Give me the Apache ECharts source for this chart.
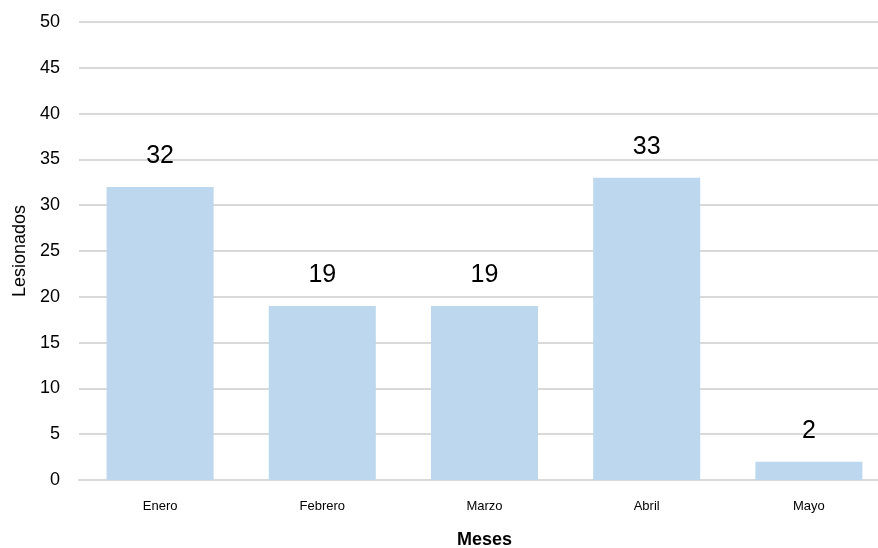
<!DOCTYPE html>
<html><head><meta charset="utf-8">
<script src="https://cdn.jsdelivr.net/npm/echarts@6/dist/echarts.min.js"></script>
<style>html,body{margin:0;padding:0;background:#fff;overflow:hidden}#c{width:878px;height:548px}</style>
</head><body><div id="c"></div>
<script>
const categories = ['Enero', 'Febrero', 'Marzo', 'Abril', 'Mayo'];
const lesionados = [32, 19, 19, 33, 2];
const yTicks = [0, 5, 10, 15, 20, 25, 30, 35, 40, 45, 50];
const xTitle = 'Meses';
const yTitle = 'Lesionados';
const font = "'Liberation Sans', Arial, sans-serif";
const chart = echarts.init(document.getElementById('c'), null, {renderer: 'canvas'});
chart.setOption({
  animation: false,
  grid: {left: 79, top: 22, width: 811, height: 458, containLabel: false, outerBoundsMode: 'none'},
  xAxis: {
    type: 'category', data: categories,
    axisLine: {show: true, lineStyle: {color: '#D9D9D9', width: 2}},
    axisTick: {show: false},
    axisLabel: {color: '#000', fontFamily: font, fontSize: 13, margin: 20},
    name: xTitle, nameLocation: 'middle', nameGap: 51,
    nameTextStyle: {color: '#000', fontFamily: font, fontWeight: 'bold', fontSize: 18}
  },
  yAxis: {
    type: 'value', min: yTicks[0], max: yTicks[yTicks.length - 1], interval: yTicks[1] - yTicks[0],
    axisLine: {show: false}, axisTick: {show: false},
    splitLine: {lineStyle: {color: '#D9D9D9', width: 2}},
    axisLabel: {color: '#000', fontFamily: font, fontSize: 18, margin: 19},
    name: yTitle, nameLocation: 'middle', nameGap: 49,
    nameTextStyle: {color: '#000', fontFamily: font, fontSize: 18}
  },
  series: [{
    type: 'bar', data: lesionados, barWidth: '66%',
    itemStyle: {color: '#BDD7EE'},
    label: {show: true, position: 'top', distance: 18, color: '#000', fontFamily: font, fontSize: 25}
  }]
});
</script></body></html>
